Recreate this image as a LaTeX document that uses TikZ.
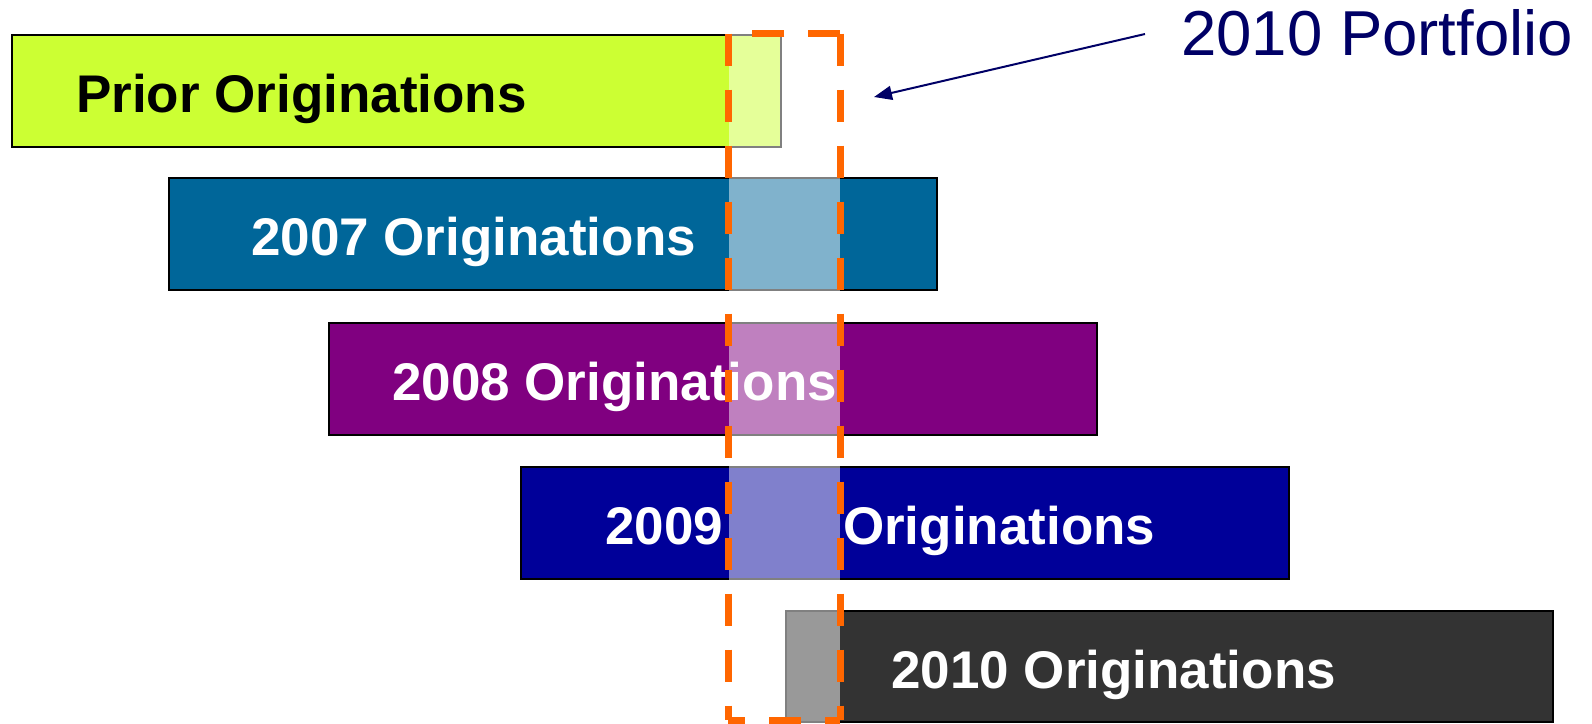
\documentclass[tikz,border=0pt]{standalone}
\usepackage{fontspec}
\setmainfont{Liberation Sans}
\usetikzlibrary{arrows.meta}
\definecolor{priorc}{HTML}{CCFF33}
\definecolor{c07}{HTML}{006699}
\definecolor{c08}{HTML}{800080}
\definecolor{c09}{HTML}{000099}
\definecolor{c10}{HTML}{333333}
\definecolor{navy}{HTML}{000066}
\definecolor{orng}{HTML}{FF6600}
\begin{document}
\begin{tikzpicture}[x=1pt,y=-1pt,
 bar/.style={draw=black, line width=1.5pt, rectangle, inner sep=0pt, minimum width=768pt, minimum height=112pt, anchor=north west},
 lbl/.style={font=\fontsize{53}{60}\selectfont\bfseries, text=white, anchor=base west, inner sep=0pt},
 dashside/.style={draw=orng, line width=7pt, dash pattern=on 32pt off 24pt}]
\useasboundingbox[fill=white] (0,0) rectangle (1592,723);
% bars
\node[bar, fill=priorc, minimum width=769pt] (prior) at (11,34) {};
\node[bar, fill=c07] (b07) at (168,177) {};
\node[bar, fill=c08] (b08) at (328,322) {};
\node[bar, fill=c09] (b09) at (520,466) {};
\node[bar, fill=c10, minimum width=767pt, minimum height=111pt] (b10) at (785,610) {};
% translucent overlay of the 2010 portfolio window
\fill[white, opacity=0.5] (729,33.3) rectangle (840,722.7);
% labels
\node[lbl, text=black] (tprior) at (76,112) {Prior Originations};
\node[lbl] (t07) at (251,255) {2007 Originations};
\node[lbl] (t08) at (392,400) {2008 Originations};
\node[lbl] (t09) at (605,544) {2009\hspace{120pt}Originations};
\node[lbl] (t10) at (891,688) {2010 Originations};
% title
\node[font=\fontsize{63.5}{70}\selectfont, text=navy, anchor=base west, inner sep=0pt] (title) at (1181,55) {2010 Portfolio};
% dashed window
\node[minimum width=112pt, minimum height=686.5pt, inner sep=0pt, anchor=north west] (port) at (728,33.5) {};
\draw[dashside] (port.north west) -- (port.south west);
\draw[dashside] (port.north east) -- (port.south east);
\draw[dashside] (port.north east) -- ([xshift=2pt]port.north west);
\draw[dashside, dash phase=15pt] (port.south west) -- (port.south east);
% arrow
\coordinate (as) at (1145,34);
\coordinate (ae) at (874,97);
\draw[navy, line width=2pt, -{Triangle[length=18pt,width=14pt]}] (as) -- (ae);
\end{tikzpicture}
\end{document}
